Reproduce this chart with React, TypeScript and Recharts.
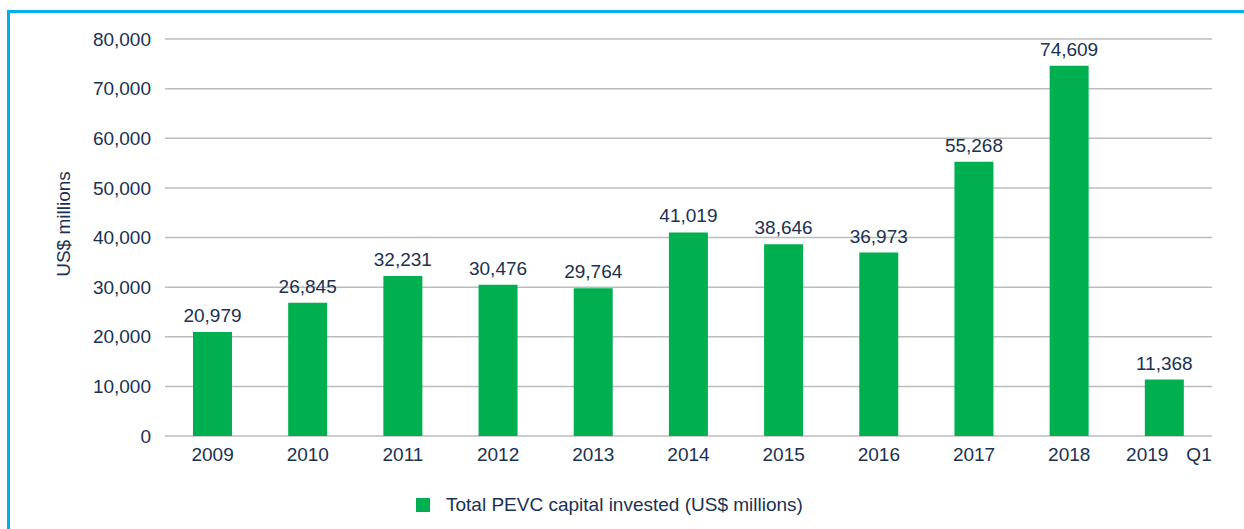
import { BarChart, Bar, XAxis, YAxis, CartesianGrid, LabelList, Legend, Label } from "recharts";

const years = ["2009", "2010", "2011", "2012", "2013", "2014", "2015", "2016", "2017", "2018", "2019 Q1"];
const invested = [20979, 26845, 32231, 30476, 29764, 41019, 38646, 36973, 55268, 74609, 11368];
const yTicks = [0, 10000, 20000, 30000, 40000, 50000, 60000, 70000, 80000];
const seriesName = "Total PEVC capital invested (US$ millions)";

const data = years.map((year, i) => ({ year, value: invested[i] }));

const INK = "#1a3151";
const GREEN = "#00b050";
const FONT = "'Liberation Sans', Arial, sans-serif";

const fmt = (v: number) => v.toLocaleString("en-US");

function YearTick({ x, y, payload }: any) {
  const parts = String(payload.value).split(" ");
  if (parts.length > 1) {
    return (
      <text x={x} y={y} dx={4.5} dy="0.71em" textAnchor="middle" fill={INK} fontSize={19} fontFamily={FONT}>
        <tspan>{parts[0]}</tspan>
        <tspan dx={18}>{parts[1]}</tspan>
      </text>
    );
  }
  return (
    <text x={x} y={y} dy="0.71em" textAnchor="middle" fill={INK} fontSize={19} fontFamily={FONT}>
      {payload.value}
    </text>
  );
}

function LegendBox() {
  return (
    <div style={{ display: "flex", alignItems: "center", fontFamily: FONT, fontSize: 19, color: INK, whiteSpace: "nowrap" }}>
      <span style={{ width: 14, height: 14, background: GREEN, display: "inline-block", marginRight: 16 }} />
      <span>{seriesName}</span>
    </div>
  );
}

export default function App() {
  return (
    <div style={{ position: "absolute", left: 0, top: 0, width: 1244, height: 529, background: "#fff", overflow: "hidden" }}>
      <div style={{ position: "absolute", left: 7, top: 10, right: 0, bottom: 0, borderTop: "3px solid #00aeef", borderLeft: "3px solid #00aeef" }} />
      <div style={{ position: "absolute", left: 0, top: 0 }}>
        <BarChart width={1244} height={529} data={data} margin={{ top: 39, right: 32, bottom: 53, left: 65 }} barSize={39}>
          <CartesianGrid vertical={false} stroke="#bcbcbc" strokeWidth={1.5} />
          <XAxis dataKey="year" axisLine={false} tickLine={false} tickSize={0} tickMargin={12} height={40} interval={0} tick={<YearTick />} />
          <YAxis
            domain={[0, 80000]}
            ticks={yTicks}
            axisLine={false}
            tickLine={false}
            tickSize={0}
            tickMargin={14}
            width={100}
            tickFormatter={fmt}
            tick={{ fill: INK, fontSize: 19, fontFamily: FONT }}
          >
            <Label
              content={() => (
                <text x={63} y={224} transform="rotate(-90, 63, 224)" textAnchor="middle" dominantBaseline="central" fill={INK} fontSize={19} fontFamily={FONT}>
                  US$ millions
                </text>
              )}
            />
          </YAxis>
          <Legend layout="horizontal" verticalAlign="middle" align="center" wrapperStyle={{ left: 416, top: 494, width: "auto" }} content={() => <LegendBox />} />
          <Bar dataKey="value" name={seriesName} fill={GREEN} isAnimationActive={false}>
            <LabelList dataKey="value" position="top" offset={10} formatter={(v: any) => fmt(Number(v))} fill={INK} fontSize={19} fontFamily={FONT} />
          </Bar>
        </BarChart>
      </div>
    </div>
  );
}
